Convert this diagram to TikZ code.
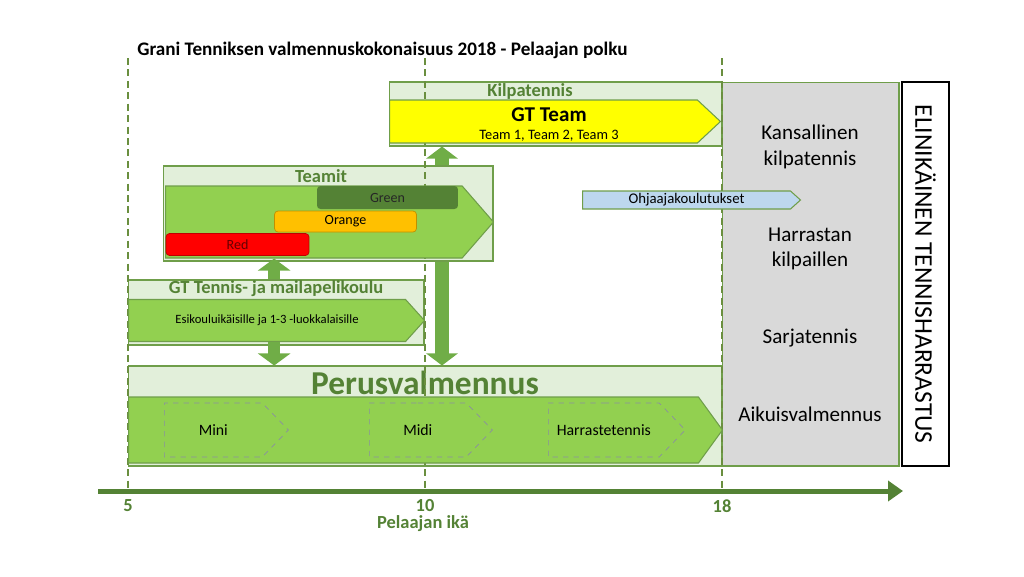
\documentclass[tikz,border=0pt]{standalone}
\usepackage{fontspec}
\setmainfont{Carlito}
\usetikzlibrary{shapes.symbols, arrows.meta, positioning, calc}

\definecolor{boxgreen}{HTML}{E2EFDA}
\definecolor{linegreen}{HTML}{6F9E4A}
\definecolor{textgreen}{HTML}{548235}
\definecolor{arrowgreen}{HTML}{92D050}
\definecolor{blockgreen}{HTML}{70AD47}
\definecolor{bargreen}{HTML}{548235}
\definecolor{barorange}{HTML}{FFC000}
\definecolor{barred}{HTML}{FF0000}
\definecolor{teamyellow}{HTML}{FFFF00}
\definecolor{sidegrey}{HTML}{D9D9D9}
\definecolor{coachblue}{HTML}{BDD7EE}
\definecolor{dashgrey}{HTML}{8A8FA0}
\definecolor{guidegreen}{HTML}{6A8F3F}

\newcommand{\fsize}[1]{\fontsize{#1}{#1}\selectfont}

\begin{document}
\begin{tikzpicture}[
    x=0.02cm, y=-0.02cm,
    stage/.style={rectangle, draw=linegreen, fill=boxgreen, line width=0.6pt, inner sep=0pt},
    stagelabel/.style={font=\bfseries\fsize{10.5}, text=textgreen, inner sep=0pt},
    patharrow/.style={signal, signal to=east, signal from=nowhere, draw=linegreen,
                      fill=arrowgreen, line width=0.6pt, inner sep=0pt, anchor=west},
    teambar/.style={rectangle, rounded corners=2pt, font=\fsize{8}, inner sep=0pt},
    phase/.style={signal, signal to=east, signal from=nowhere, draw=dashgrey, dashed,
                  minimum height=1.08cm, signal pointer angle=92, font=\fsize{9},
                  inner sep=0pt, anchor=west},
    sidetext/.style={font=\fontsize{12}{14.7}\selectfont, align=center, text=black},
    lift/.style={line width=0.24cm, blockgreen, -{Triangle[length=0.24cm, width=0.64cm]}},
    agemark/.style={font=\bfseries\fsize{10.5}, text=textgreen, inner sep=0pt}
]
\useasboundingbox (0,0) rectangle (1024,576);

% title
\node[font=\bfseries\fsize{10.9}, anchor=west, inner sep=0pt] (title) at (137,50)
    {Grani Tenniksen valmennuskokonaisuus 2018 - Pelaajan polku};

% right hand columns
\node[rectangle, draw=linegreen, fill=sidegrey, line width=0.6pt,
      minimum width=3.54cm, minimum height=7.68cm] (adult) at (810.5,274) {};
\node[rectangle, draw=black, fill=white, line width=0.8pt,
      minimum width=0.94cm, minimum height=7.68cm] (lifelong) at (925.5,274) {};
\node[rotate=-90, font=\fsize{14.5}] (lifelonglbl) at (lifelong.center)
    {ELINIKÄINEN TENNISHARRASTUS};

% stage boxes
\node[stage, minimum width=6.66cm, minimum height=1.28cm] (kilpa) at (555.5,114) {};
\node[stagelabel] (kilpalbl) at (530,91) {Kilpatennis};
\node[stage, minimum width=5.92cm, minimum height=1.3cm] (tennis) at (276,312.5) {};
\node[stagelabel] (tennislbl) at (276,289) {GT Tennis- ja mailapelikoulu};
\node[stage, minimum width=11.88cm, minimum height=2cm] (perus) at (425,416) {};
\node[stagelabel, font=\bfseries\fsize{19}] (peruslbl) at (425,383) {Perusvalmennus};

% long lift behind the teams box
\coordinate (liftx) at (442,0);
\draw[lift, line width=0.28cm, {Triangle[length=0.24cm, width=0.62cm]}-{Triangle[length=0.24cm, width=0.62cm]}]
    (perus.north -| liftx) -- (kilpa.south -| liftx);

\node[stage, minimum width=6.6cm, minimum height=1.9cm] (teamit) at (328,213.5) {};
\node[stagelabel] (teamitlbl) at (321,176) {Teamit};

% age guides
\foreach \xa in {128,425,722} {
    \draw[guidegreen, dashed, line width=0.7pt, dash pattern=on 4pt off 2.5pt] (\xa,58) -- (\xa,491);
}

% path arrows
\node[patharrow, fill=teamyellow, minimum width=6.62cm, minimum height=0.86cm,
      signal pointer angle=86] (gtteam) at (389,121.5) {};
\node[align=center, inner sep=0pt] (gtteamlbl) at (549,124.5)
    {{\bfseries\fsize{12}GT Team}\\[-1.5pt]{\fsize{8.2}Team 1, Team 2, Team 3}};
\node[patharrow, minimum width=6.56cm, minimum height=1.44cm,
      signal pointer angle=98] (teamarrow) at (165,222) {};
\node[teambar, fill=bargreen, minimum width=2.82cm, minimum height=0.46cm,
      text=black!85] (greenbar) at (387.5,197.5) {Green};
\node[teambar, fill=barorange, draw=barorange!75!black, minimum width=2.84cm,
      minimum height=0.42cm] (orangebar) at (345.5,221.5) {Orange};
\node[teambar, fill=barred, draw=barred!75!black, minimum width=2.86cm,
      minimum height=0.44cm, text=red!40!black] (redbar) at (237.5,244.5) {Red};
\node[patharrow, fill=coachblue, minimum width=4.36cm, minimum height=0.36cm,
      signal pointer angle=84, font=\fsize{8.4}] (coach) at (582,200) {Ohjaajakoulutukset};
\node[patharrow, minimum width=5.92cm, minimum height=0.84cm, signal pointer angle=96,
      font=\fsize{7.2}] (tennisarrow) at (128,320.5) {Esikouluikäisille ja 1-3 -luokkalaisille};
\node[patharrow, minimum width=11.88cm, minimum height=1.32cm,
      signal pointer angle=108] (perusarrow) at (128,430) {};
\node[phase, minimum width=2.48cm] (mini) at (164,430) {Mini};
\node[phase, minimum width=2.46cm] (midi) at (369,430) {Midi};
\node[phase, minimum width=2.74cm] (harraste) at (548,430) {Harrastetennis};

% lifts between stages
\draw[lift] (tennis.north -| orangebar.west) -- (teamarrow.south -| orangebar.west);
\draw[lift] (tennisarrow.south -| orangebar.west) -- (perus.north -| orangebar.west);

% levels of adult play
\node[sidetext] (national) at (810,147) {Kansallinen\\kilpatennis};
\node[sidetext] (hobbycomp) at (810,249) {Harrastan\\kilpaillen};
\node[sidetext] (series) at (810,338) {Sarjatennis};
\node[sidetext] (adultcoach) at (810,414) {Aikuisvalmennus};

% age axis
\coordinate (axisstart) at (98,491);
\coordinate (axisend) at (903,491);
\draw[textgreen, line width=0.1cm, -{Triangle[length=0.3cm, width=0.4cm]}] (axisstart) -- (axisend);
\node[agemark] (age5) at (128,506) {5};
\node[agemark] (age10) at (425,506) {10};
\node[agemark] (age18) at (722,506) {18};
\node[agemark] (agelbl) at (423,524) {Pelaajan ikä};
\end{tikzpicture}
\end{document}
